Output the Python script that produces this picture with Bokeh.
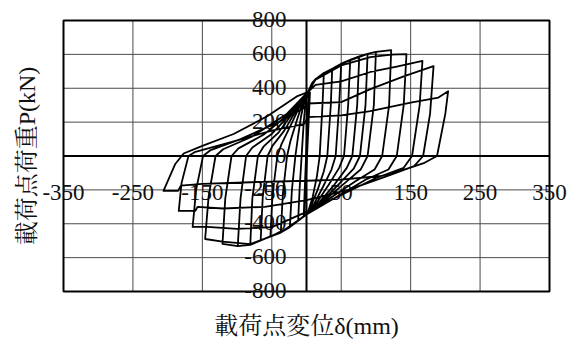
import math
from bokeh.plotting import figure
from bokeh.models import Range1d
from bokeh.embed import file_html
from bokeh.resources import INLINE
from bokeh.core.properties import value

# ---- axis ticks -------------------------------------------------------
x_grid = [-350, -250, -150, -50, 50, 150, 250, 350]
x_tick_labels = ["-350", "-250", "-150", "-50", "50", "150", "250", "350"]
y_grid = [-800, -600, -400, -200, 0, 200, 400, 600, 800]
y_tick_labels = ["-800", "-600", "-400", "-200", "0", "200", "400", "600", "800"]

# ---- load-displacement history (delta in mm, P in kN) -----------------
# initial small elastic cycles and first push
virgin_d = [0, 3, -3, 4, -3, 5, -4, 3, 13, 25]
virgin_p = [0, 330, -320, 360, -340, 375, -350, 378, 454, 490]

# each cycle: positive peak -> negative peak -> next positive peak
cyc01_d = [25, 23, 19, 15, 9, 3, 0, -4, -12, -10, -7, -4, -1, 2, 8, 13, 25, 37]
cyc01_p = [490, 300, 0, -120, -240, -320, -345, -356, -380, -200, 0, 200, 330, 378, 430, 454, 490, 515]

cyc02_d = [37, 35, 30, 25, 16, 6, 0, -4, -12, -24, -21, -16, -12, -8, -3, 2, 13, 25, 37, 50]
cyc02_p = [515, 300, 0, -90, -200, -300, -345, -356, -380, -420, -200, 0, 120, 230, 330, 378, 454, 490, 515, 545]

cyc03_d = [50, 47, 42, 36, 24, 10, 0, -4, -12, -24, -37, -34, -28, -23, -14, -5, 2, 13, 25, 37, 50, 63]
cyc03_p = [545, 300, 0, -80, -180, -290, -345, -356, -380, -420, -452, -220, 0, 90, 210, 320, 378, 454, 490, 515, 545, 568]

cyc04_d = [63, 60, 54, 47, 32, 14, 0, -12, -24, -37, -52, -49, -42, -36, -24, -9, 2, 13, 37, 50, 63, 76]
cyc04_p = [568, 300, 0, -70, -170, -280, -345, -380, -420, -452, -475, -230, 0, 70, 170, 300, 378, 454, 515, 545, 568, 588]

cyc05_d = [76, 73, 66, 58, 40, 18, 0, -12, -24, -37, -52, -66, -63, -56, -49, -32, -12, 2, 13, 37, 63, 76, 88]
cyc05_p = [588, 300, 0, -70, -170, -275, -345, -380, -420, -452, -475, -498, -240, 0, 60, 150, 290, 378, 454, 515, 568, 588, 603]

cyc06_d = [88, 85, 77, 68, 48, 22, 0, -24, -52, -66, -81, -78, -70, -62, -40, -15, 2, 13, 37, 63, 88, 100]
cyc06_p = [603, 300, 0, -75, -160, -270, -345, -420, -475, -498, -525, -250, 0, 55, 140, 280, 378, 454, 515, 568, 603, 615]

cyc07_d = [100, 97, 88, 78, 55, 25, 0, -24, -52, -81, -99, -95, -87, -78, -50, -18, 2, 13, 50, 88, 100, 122]
cyc07_p = [615, 300, 0, -80, -160, -265, -345, -420, -475, -525, -532, -250, 0, 50, 130, 270, 378, 454, 545, 603, 615, 625]

cyc08_d = [122, 119, 109, 98, 70, 30, 0, -24, -52, -81, -99, -121, -117, -108, -98, -62, -22, 2, 13, 50, 92, 122, 144]
cyc08_p = [625, 300, 0, -80, -150, -260, -345, -420, -475, -525, -532, -519, -250, 0, 45, 125, 260, 378, 450, 535, 584, 598, 602]

cyc09_d = [144, 140, 130, 118, 85, 40, 0, -37, -81, -121, -146, -141, -131, -120, -78, -28, 2, 13, 50, 92, 130, 167]
cyc09_p = [602, 300, 0, -80, -140, -250, -345, -452, -520, -505, -490, -240, 0, 40, 115, 250, 378, 420, 440, 496, 528, 562]

cyc10_d = [167, 163, 152, 140, 100, 50, 0, -50, -100, -143, -164, -159, -149, -138, -95, -40, -5, 2, 50, 92, 140, 183]
cyc10_p = [562, 300, 0, -70, -130, -230, -330, -420, -430, -419, -419, -200, 0, 35, 100, 200, 280, 310, 318, 395, 470, 531]

cyc11_d = [183, 178, 168, 155, 115, 60, 0, -60, -120, -157, -160, -184, -180, -170, -160, -110, -50, -3, 2, 50, 92, 150, 190, 204]
cyc11_p = [531, 250, 0, -60, -120, -200, -260, -300, -310, -300, -324, -324, -160, 0, 25, 80, 150, 190, 230, 240, 265, 315, 345, 383]

# last cycle and final reloading
cyc12_d = [204, 200, 188, 170, 131, 107, 50, 0, -80, -150, -181, -185, -206, -200, -189, -177, -150, -105, -56, -13, 2]
cyc12_p = [383, 250, 0, -40, -94, -118, -140, -146, -155, -165, -175, -206, -206, -150, -47, 15, 60, 130, 236, 354, 378]

history = [
    (virgin_d, virgin_p), (cyc01_d, cyc01_p), (cyc02_d, cyc02_p), (cyc03_d, cyc03_p),
    (cyc04_d, cyc04_p), (cyc05_d, cyc05_p), (cyc06_d, cyc06_p), (cyc07_d, cyc07_p),
    (cyc08_d, cyc08_p), (cyc09_d, cyc09_p), (cyc10_d, cyc10_p), (cyc11_d, cyc11_p),
    (cyc12_d, cyc12_p),
]

# join all cycles into one continuous path
path_d, path_p = [], []
for d, pv in history:
    start = 1 if path_d else 0
    path_d.extend(d[start:])
    path_p.extend(pv[start:])

# ---- layout: plot box inside the canvas (pixels) ----------------------
W, H = 576, 340
BOX_L, BOX_R, BOX_T, BOX_B = 63, 549, 20, 291
X_MIN, X_MAX, Y_MIN, Y_MAX = -350, 350, -800, 800

# the drawing area spans the whole canvas so that labels outside the box
# are not clipped; ranges are widened to keep the box where it belongs
kx = (X_MAX - X_MIN) / (BOX_R - BOX_L)
ky = (Y_MAX - Y_MIN) / (BOX_B - BOX_T)
x_range = Range1d(X_MIN - BOX_L * kx, X_MAX + (W - BOX_R) * kx)
y_range = Range1d(Y_MIN - (H - BOX_B) * ky, Y_MAX + BOX_T * ky)

SERIF = "Liberation Serif, 'Noto Serif CJK JP', 'Noto Sans CJK JP'"
INK = "#111111"

p = figure(
    width=W, height=H, x_range=x_range, y_range=y_range,
    x_axis_type=None, y_axis_type=None,
    toolbar_location=None, output_backend="svg",
    min_border=0,
)
p.outline_line_color = None
p.background_fill_color = "white"
p.border_fill_color = "white"
p.xgrid.visible = False
p.ygrid.visible = False

# grid lines
p.segment(x0=x_grid, y0=[Y_MIN] * len(x_grid), x1=x_grid, y1=[Y_MAX] * len(x_grid),
          line_color="#4a4a4a", line_width=1)
p.segment(x0=[X_MIN] * len(y_grid), y0=y_grid, x1=[X_MAX] * len(y_grid), y1=y_grid,
          line_color="#4a4a4a", line_width=1)
# axes through the origin
p.segment(x0=[0, X_MIN], y0=[Y_MIN, 0], x1=[0, X_MAX], y1=[Y_MAX, 0],
          line_color="black", line_width=2)
# plot box
p.quad(left=[X_MIN], right=[X_MAX], bottom=[Y_MIN], top=[Y_MAX],
       fill_color=None, line_color="black", line_width=2)

# tick labels sit next to the axes crossing at the origin
p.text(x=[0] * len(y_grid), y=y_grid, text=y_tick_labels, x_offset=-20, y_offset=-1,
       text_align="right", text_baseline="middle",
       text_font=value(SERIF), text_font_size="23px", text_color=INK)
p.text(x=x_grid, y=[0] * len(x_grid), text=x_tick_labels, y_offset=36,
       text_align="center", text_baseline="middle",
       text_font=value(SERIF), text_font_size="23px", text_color=INK)

# axis titles
p.text(x=[0], y=[Y_MIN], text=["載荷点変位δ(mm)"], y_offset=34,
       text_align="center", text_baseline="middle",
       text_font=value(SERIF), text_font_size="24px", text_color=INK)
p.text(x=[X_MIN], y=[0], text=["載荷点荷重P(kN)"], x_offset=-37, angle=math.pi / 2,
       text_align="center", text_baseline="middle",
       text_font=value(SERIF), text_font_size="24px", text_color=INK)

p.line(path_d, path_p, line_color="black", line_width=1.8, line_join="round")

open("out.html", "w").write(file_html(p, INLINE))
